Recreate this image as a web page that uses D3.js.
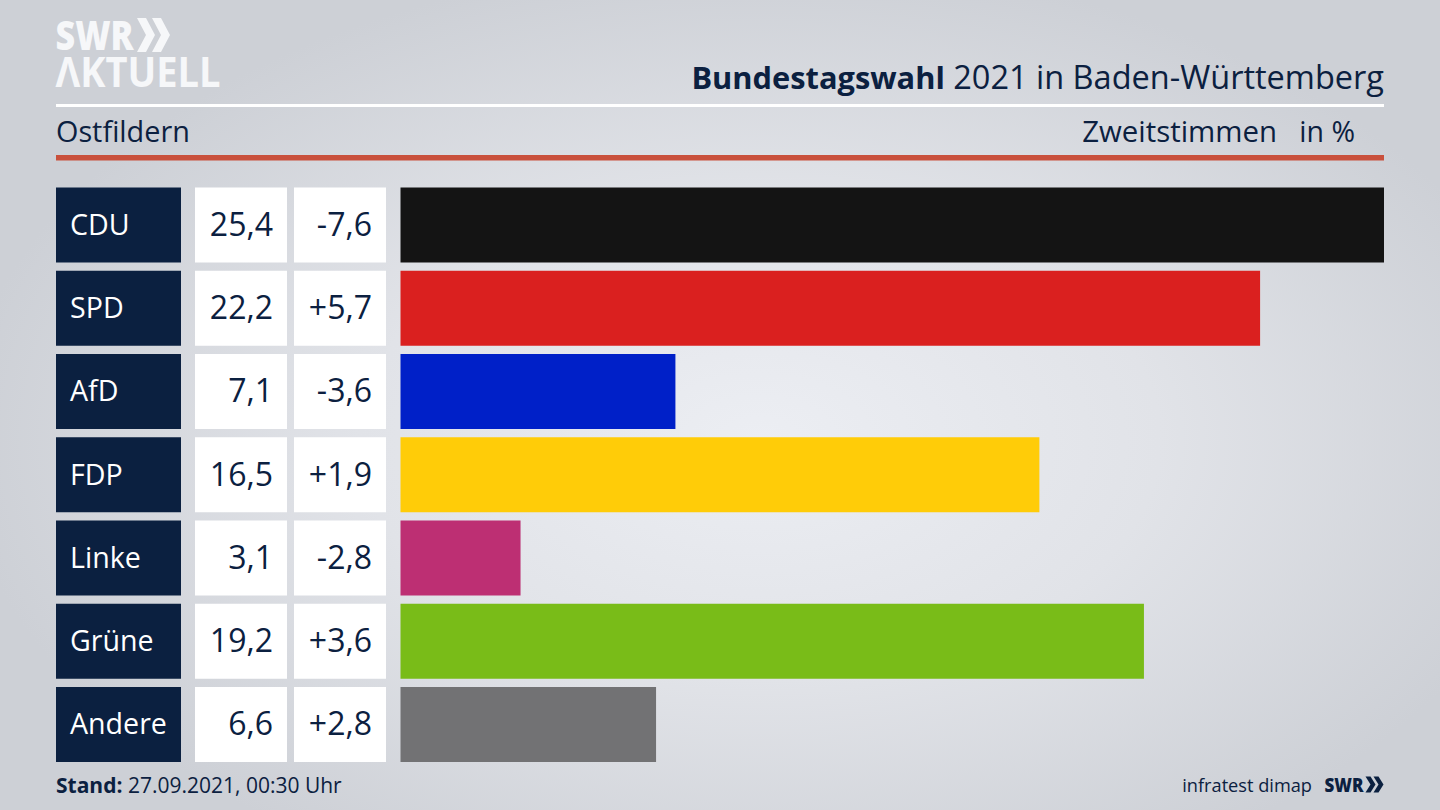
<!DOCTYPE html>
<html><head><meta charset="utf-8">
<script src="https://cdn.jsdelivr.net/npm/d3@7"></script>
<style>html,body{margin:0;padding:0;background:#d0d3d9;overflow:hidden}svg{display:block}text{font-family:"Open Sans",sans-serif}</style>
</head><body><svg id="c" width="1440" height="810"></svg>
<script>
const parties=["CDU","SPD","AfD","FDP","Linke","Grüne","Andere"];
const shares=[25.4,22.2,7.1,16.5,3.1,19.2,6.6];
const shareLabels=["25,4","22,2","7,1","16,5","3,1","19,2","6,6"];
const diffLabels=["-7,6","+5,7","-3,6","+1,9","-2,8","+3,6","+2,8"];
const colors=["#141414","#da201f","#0020c8","#ffcc08","#bd2f73","#79bc18","#727274"];
const navy="#0b2040";
const svg=d3.select("#c");
const defs=svg.append("defs");
const g=defs.append("radialGradient").attr("id","bg").attr("gradientUnits","userSpaceOnUse")
 .attr("cx",760).attr("cy",440).attr("r",800).attr("gradientTransform","translate(0,176) scale(1,0.6)");
[[0,"#eceef3"],[0.5,"#e1e3e8"],[1,"#cdd0d6"]].forEach(d=>g.append("stop").attr("offset",d[0]).attr("stop-color",d[1]));
svg.append("rect").attr("width",1440).attr("height",810).attr("fill","url(#bg)");
const y=d3.scaleBand().domain(parties).range([187.5,762]).paddingInner(0.0991);
const x=d3.scaleLinear().domain([0,25.4]).range([400.5,1384]);
const row=svg.selectAll("g.row").data(parties).join("g").attr("class","row").attr("transform",d=>`translate(0,${y(d)})`);
const h=y.bandwidth();
row.append("rect").attr("x",56).attr("width",125).attr("height",h).attr("fill",navy);
row.append("rect").attr("x",195).attr("width",92).attr("height",h).attr("fill","#fff");
row.append("rect").attr("x",294).attr("width",92).attr("height",h).attr("fill","#fff");
row.append("rect").attr("x",x(0)).attr("width",(d,i)=>x(shares[i])-x(0)).attr("height",h).attr("fill",(d,i)=>colors[i]);
const ty=h/2+11;
row.append("text").attr("x",70).attr("y",ty-1).attr("fill","#fff").attr("font-size",28.6).text(d=>d);
row.append("text").attr("x",273).attr("y",ty).attr("text-anchor","end").attr("fill",navy).attr("font-size",32).text((d,i)=>shareLabels[i]);
row.append("text").attr("x",372).attr("y",ty).attr("text-anchor","end").attr("fill",navy).attr("font-size",32).text((d,i)=>diffLabels[i]);
// header rules
svg.append("rect").attr("x",56).attr("y",104).attr("width",1328).attr("height",3).attr("fill","#fff");
svg.append("rect").attr("x",56).attr("y",155).attr("width",1328).attr("height",5.5).attr("fill","#c9503c");
// title
const t=svg.append("text").attr("x",1384).attr("y",89).attr("text-anchor","end").attr("fill",navy).attr("font-size",32.5);
t.append("tspan").attr("font-weight",700).attr("font-size",30.8).text("Bundestagswahl");
t.append("tspan").text(" 2021 in Baden-Württemberg");
svg.append("text").attr("x",56).attr("y",142).attr("fill",navy).attr("font-size",28.8).text("Ostfildern");
svg.append("text").attr("x",1277).attr("y",142).attr("text-anchor","end").attr("fill",navy).attr("font-size",29.4).text("Zweitstimmen");
svg.append("text").attr("x",1355).attr("y",142).attr("text-anchor","end").attr("fill",navy).attr("font-size",28.5).text("in %");
// footer
const f=svg.append("text").attr("x",56).attr("y",793).attr("fill",navy).attr("font-size",21);
f.append("tspan").attr("font-weight",700).attr("font-size",21).text("Stand:");
f.append("tspan").text(" 27.09.2021, 00:30 Uhr");
svg.append("text").attr("x",1312).attr("y",792).attr("text-anchor","end").attr("fill",navy).attr("font-size",18.2).text("infratest dimap");
function chevrons(sel,l0,cy,w,hh,gap,col){
 [0,1].forEach(i=>{const l=l0+i*gap;
  sel.append("path").attr("d",`M${l},${cy-hh}L${l+w*0.5},${cy-hh}L${l+w},${cy}L${l+w*0.5},${cy+hh}L${l},${cy+hh}L${l+w*0.5},${cy}Z`).attr("fill",col);});
}
// logos
svg.append("text").attr("x",55.5).attr("y",50).attr("fill","#f6f7f9").attr("font-size",41).attr("font-weight",800).attr("textLength",78).attr("lengthAdjust","spacingAndGlyphs").text("SWR");
chevrons(svg,137,35,18,17,15,"#f6f7f9");
svg.append("text").attr("x",55.5).attr("y",87).attr("fill","#f6f7f9").attr("font-size",41).attr("font-weight",700).attr("textLength",165).attr("lengthAdjust","spacingAndGlyphs").text("ΛKTUELL");
svg.append("text").attr("x",1324.5).attr("y",792).attr("fill",navy).attr("font-size",19.6).attr("font-weight",800).attr("textLength",39).attr("lengthAdjust","spacingAndGlyphs").text("SWR");
chevrons(svg,1365.5,784.5,10,8,8,navy);
</script></body></html>
